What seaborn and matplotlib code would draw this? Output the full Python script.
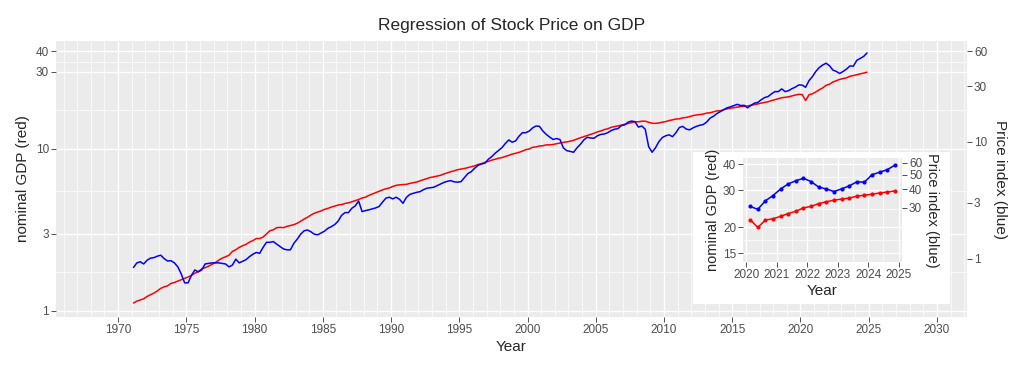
import numpy as np
import pandas as pd
import matplotlib
matplotlib.use("Agg")
import matplotlib.pyplot as plt
from matplotlib.patches import Rectangle
from matplotlib.ticker import FixedLocator, NullFormatter, NullLocator
import seaborn as sns

# quarterly nominal GDP (trillion $), 1971Q1 .. 2024Q4
gdp = [
    1.12, 1.15, 1.17, 1.19,  1.23, 1.26, 1.29, 1.33,  1.38, 1.41, 1.43, 1.48,
    1.50, 1.53, 1.56, 1.59,  1.62, 1.66, 1.71, 1.75,  1.82, 1.85, 1.89, 1.94,
    1.99, 2.06, 2.12, 2.16,  2.21, 2.33, 2.39, 2.47,  2.53, 2.58, 2.66, 2.72,
    2.80, 2.80, 2.86, 2.99,  3.13, 3.17, 3.27, 3.28,  3.27, 3.33, 3.37, 3.41,
    3.48, 3.58, 3.69, 3.79,  3.91, 4.01, 4.08, 4.15,  4.24, 4.30, 4.38, 4.44,
    4.51, 4.54, 4.61, 4.65,  4.72, 4.80, 4.88, 4.98,  5.04, 5.17, 5.27, 5.38,
    5.48, 5.59, 5.68, 5.75,  5.87, 5.96, 6.01, 6.03,  6.05, 6.13, 6.19, 6.25,
    6.36, 6.46, 6.56, 6.67,  6.73, 6.81, 6.88, 7.01,  7.12, 7.24, 7.33, 7.45,
    7.52, 7.58, 7.68, 7.77,  7.87, 8.02, 8.12, 8.27,  8.38, 8.53, 8.65, 8.76,
    8.85, 8.99, 9.13, 9.30,  9.40, 9.53, 9.70, 9.91,  10.00, 10.25, 10.30, 10.43,
    10.47, 10.60, 10.60, 10.66,  10.78, 10.88, 10.98, 11.06,  11.17, 11.31, 11.53, 11.73,
    11.91, 12.12, 12.30, 12.50,  12.76, 12.92, 13.17, 13.33,  13.60, 13.75, 13.87, 14.04,
    14.22, 14.40, 14.56, 14.72,  14.71, 14.84, 14.85, 14.61,  14.43, 14.38, 14.47, 14.63,
    14.76, 14.98, 15.13, 15.31,  15.35, 15.56, 15.65, 15.84,  16.07, 16.21, 16.31, 16.42,
    16.65, 16.73, 16.95, 17.19,  17.20, 17.47, 17.70, 17.84,  17.99, 18.15, 18.28, 18.33,
    18.43, 18.60, 18.78, 18.97,  19.19, 19.36, 19.56, 19.89,  20.16, 20.46, 20.70, 20.83,
    20.98, 21.26, 21.53, 21.73,  21.7, 19.9, 21.6, 21.9,  22.5, 23.2, 23.8, 24.7,
    25.1, 25.9, 26.4, 26.9,  27.2, 27.5, 28.1, 28.4,  28.7, 29.1, 29.4, 29.8,
]

# quarterly stock price index, 1971Q1 .. 2024Q4
price = [
    0.84, 0.92, 0.94, 0.90,  0.97, 1.01, 1.02, 1.05,  1.07, 1.00, 0.955, 0.96,
    0.92, 0.85, 0.74, 0.62,  0.62, 0.72, 0.80, 0.77,  0.80, 0.90, 0.91, 0.92,
    0.92, 0.92, 0.91, 0.90,  0.85, 0.88, 0.99, 0.92,  0.95, 0.98, 1.04, 1.09,
    1.13, 1.11, 1.25, 1.38,  1.38, 1.40, 1.33, 1.27,  1.21, 1.19, 1.19, 1.35,
    1.47, 1.62, 1.73, 1.76,  1.70, 1.62, 1.60, 1.66,  1.72, 1.82, 1.88, 1.96,
    2.10, 2.35, 2.48, 2.48,  2.70, 2.83, 3.12, 2.53,  2.58, 2.62, 2.67, 2.72,
    2.80, 3.05, 3.30, 3.36,  3.25, 3.36, 3.22, 2.98,  3.35, 3.55, 3.63, 3.70,
    3.75, 3.90, 4.01, 4.05,  4.09, 4.22, 4.36, 4.50,  4.60, 4.66, 4.55, 4.52,
    4.57, 4.95, 5.35, 5.56,  5.95, 6.30, 6.48, 6.57,  7.10, 7.48, 8.00, 8.45,
    8.93, 9.70, 10.4, 9.95,  10.2, 11.2, 12.0, 12.0,  12.4, 13.2, 13.7, 13.6,
    12.4, 11.6, 11.0, 10.5,  10.7, 10.5, 8.9, 8.42,  8.30, 8.16, 8.9, 9.55,
    10.4, 10.97, 10.8, 10.76,  11.3, 11.6, 11.7, 12.0,  12.5, 12.85, 13.0, 13.8,
    14.0, 14.8, 15.1, 14.9,  13.4, 13.7, 12.85, 9.12,  8.16, 8.9, 10.06, 10.9,
    11.3, 11.5, 11.1, 12.0,  13.3, 13.6, 12.9, 12.7,  13.2, 13.6, 13.9, 14.1,
    14.8, 16.0, 16.6, 17.5,  18.2, 18.9, 19.6, 20.0,  20.5, 21.0, 20.5, 20.6,
    19.6, 20.6, 21.5, 21.8,  23.0, 24.0, 24.5, 25.8,  27.0, 27.0, 28.5, 27.0,
    27.5, 28.6, 29.5, 30.8,  30.7, 29.4, 33.5, 36.3,  40.2, 43.4, 45.6, 47.3,
    45.0, 41.3, 40.2, 38.6,  40.2, 42.1, 44.8, 44.6,  50.0, 51.9, 54.0, 57.9,
]

quarter = np.arange(1971.125, 2025.0, 0.25)
df = pd.DataFrame({"quarter": quarter, "gdp": gdp, "price": price})
recent = df[df["quarter"] > 2020]

year_ticks = list(range(1970, 2031, 5))
gdp_ticks = [1, 3, 10, 30, 40]
price_ticks = [1, 3, 10, 30, 60]
inset_years = list(range(2020, 2026))
inset_gdp_ticks = [15, 20, 30, 40]
inset_price_ticks = [30, 40, 50, 60]

sns.set_theme(style="darkgrid", rc={
    "axes.facecolor": "#EBEBEB",
    "grid.color": "white",
    "axes.edgecolor": "none",
    "axes.linewidth": 0,
})
plt.rcParams["font.family"] = ["Liberation Sans", "DejaVu Sans"]

GRAY_TXT = "#4D4D4D"
TICK_COL = "#333333"


def style_axis(a, left=True, right=False):
    a.tick_params(axis="both", which="major", length=3.5, width=0.6, color=TICK_COL,
                  labelcolor=GRAY_TXT, labelsize=8.5, pad=1.5,
                  bottom=True, left=left, right=right)
    a.tick_params(axis="both", which="minor", length=0)
    for s in a.spines.values():
        s.set_visible(False)


fig = plt.figure(figsize=(10.24, 3.72), dpi=100)

# ---- main panel
ax = fig.add_axes([0.0547, 0.1478, 0.8896, 0.742])
ax.set_yscale("log")
sns.lineplot(data=df, x="quarter", y="gdp", ax=ax, color="red", lw=1.1,
             estimator=None, sort=False)
ax.set_xlim(1965.45, 2032.2)
ax.set_ylim(0.918, 46.4)
ax.set_xticks(year_ticks)
ax.xaxis.set_minor_locator(FixedLocator(list(range(1966, 2033))))
ax.set_yticks(gdp_ticks)
ax.set_yticklabels([str(t) for t in gdp_ticks])
ax.yaxis.set_minor_locator(FixedLocator([1.732, 5.477, 17.32, 34.64]))
ax.yaxis.set_minor_formatter(NullFormatter())
ax.grid(which="major", color="white", lw=1.0)
ax.grid(which="minor", color="white", lw=0.5)
style_axis(ax)
ax.set_xlabel("Year", fontsize=11, labelpad=3)
ax.set_ylabel("nominal GDP (red)", fontsize=11, labelpad=4)
ax.set_title("Regression of Stock Price on GDP", fontsize=12.5, pad=8)

ax2 = ax.twinx()
ax2.set_zorder(0.5)
ax2.set_yscale("log")
sns.lineplot(data=df, x="quarter", y="price", ax=ax2, color="blue", lw=1.1,
             estimator=None, sort=False)
ax2.set_ylim(0.316, 73.3)
ax2.set_yticks(price_ticks)
ax2.set_yticklabels([str(t) for t in price_ticks])
ax2.yaxis.set_minor_locator(NullLocator())
ax2.grid(False)
style_axis(ax2, left=False, right=True)
ax2.set_ylabel("Price index (blue)", fontsize=11, rotation=270, labelpad=14)

# ---- inset with the last 20 quarters
fig.add_artist(Rectangle((0.6768, 0.1828), 0.251, 0.4086, transform=fig.transFigure,
                         facecolor="white", edgecolor="none", zorder=1))

axi = fig.add_axes([0.7256, 0.2957, 0.1553, 0.2796])
axi.set_zorder(2)
axi.set_yscale("log")
sns.lineplot(data=recent, x="quarter", y="gdp", ax=axi, color="red", lw=1.1,
             marker="o", markersize=3, markeredgewidth=0, estimator=None, sort=False)
axi.set_xlim(2019.89, 2025.11)
axi.set_ylim(13.6, 42.8)
axi.set_xticks(inset_years)
axi.xaxis.set_minor_locator(FixedLocator([2020.5, 2021.5, 2022.5, 2023.5, 2024.5]))
axi.set_yticks(inset_gdp_ticks)
axi.set_yticklabels([str(t) for t in inset_gdp_ticks])
axi.yaxis.set_minor_locator(FixedLocator([17.32, 24.49, 34.64]))
axi.yaxis.set_minor_formatter(NullFormatter())
axi.grid(which="major", color="white", lw=1.0)
axi.grid(which="minor", color="white", lw=0.5)
style_axis(axi)
axi.set_xlabel("Year", fontsize=11, labelpad=2)
axi.set_ylabel("nominal GDP (red)", fontsize=10.5, labelpad=2)

axi2 = axi.twinx()
axi2.set_zorder(3)
axi2.set_yscale("log")
sns.lineplot(data=recent, x="quarter", y="price", ax=axi2, color="blue", lw=1.1,
             marker="o", markersize=3, markeredgewidth=0, estimator=None, sort=False)
axi2.set_ylim(13.1, 64.6)
axi2.set_yticks(inset_price_ticks)
axi2.set_yticklabels([str(t) for t in inset_price_ticks])
axi2.yaxis.set_minor_locator(NullLocator())
axi2.grid(False)
style_axis(axi2, left=False, right=True)
axi2.set_ylabel("Price index (blue)", fontsize=10.5, rotation=270, labelpad=12)

fig.savefig("out.png", dpi=100)
